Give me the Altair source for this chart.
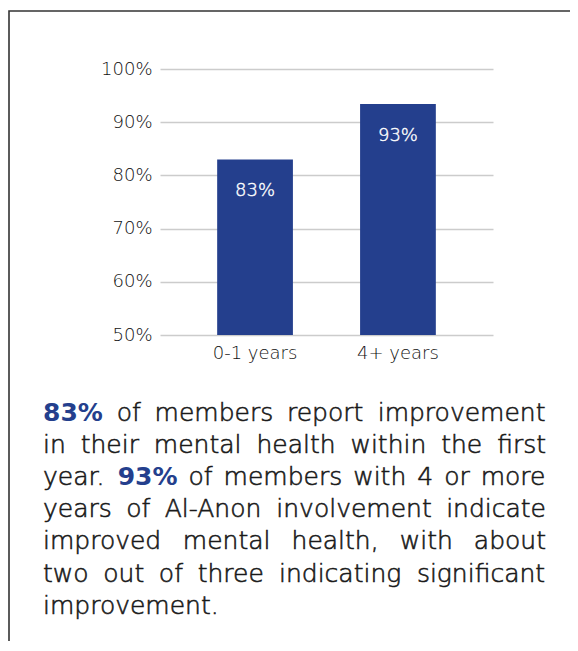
import altair as alt
import pandas as pd

# ---- data ----
categories = ["0-1 years", "4+ years"]
values = [83, 93.4]
bar_labels = ["83%", "93%"]
y_ticks = [50, 60, 70, 80, 90, 100]
y_domain = [50, 100]

paragraph_lines = [
    "83% of members report improvement",
    "in their mental health within the first",
    "year. 93% of members with 4 or more",
    "years of Al-Anon involvement indicate",
    "improved mental health, with about",
    "two out of three indicating significant",
    "improvement.",
]
bold_words = ["83%", "93%"]

# ---- styling ----
FONT = "DejaVu Sans"
BLUE = "#243f8d"
TEXT = "#1a1a1a"
AXIS_TEXT = "#111111"
GRID = "#cccccc"

PLOT_W, PLOT_H = 333, 266
PAD = {"left": 152, "top": 61, "right": 77, "bottom": 306}

# ---- paragraph layout (justified, computed from DejaVu Sans advance widths) ----
REG = {' ': 0.318, 'a': 0.613, 'b': 0.635, 'c': 0.550, 'd': 0.635, 'e': 0.615,
       'f': 0.352, 'g': 0.635, 'h': 0.634, 'i': 0.278, 'j': 0.278, 'k': 0.579,
       'l': 0.278, 'm': 0.974, 'n': 0.634, 'o': 0.612, 'p': 0.635, 'q': 0.635,
       'r': 0.411, 's': 0.521, 't': 0.392, 'u': 0.634, 'v': 0.592, 'w': 0.818,
       'x': 0.592, 'y': 0.592, 'z': 0.525, 'A': 0.684, 'N': 0.748, '.': 0.318,
       ',': 0.318, '-': 0.361, '%': 0.950}
for d in "0123456789":
    REG[d] = 0.636
BOLD = dict(REG)
for d in "0123456789":
    BOLD[d] = 0.696
BOLD['%'] = 1.002

FS = 25
LEFT, RIGHT = -117, 386
BASE0, LH = 351.5, 32.2


def word_width(w, bold):
    table = BOLD if bold else REG
    return sum(table.get(c, 0.6) for c in w) * FS


rows = []
for i, line in enumerate(paragraph_lines):
    words = line.split(" ")
    widths = [word_width(w, w in bold_words) for w in words]
    if i < len(paragraph_lines) - 1 and len(words) > 1:
        gap = (RIGHT - LEFT - sum(widths)) / (len(words) - 1)
    else:
        gap = REG[' '] * FS
    x = LEFT
    for w, wd in zip(words, widths):
        rows.append({"word": w, "px": x, "py": BASE0 + i * LH,
                     "bold": w in bold_words})
        x += wd + gap
words_df = pd.DataFrame(rows)

bars_df = pd.DataFrame({"cat": categories, "val": values, "lab": bar_labels})

# ---- chart ----
xenc = alt.X("cat:N", sort=categories, title=None,
             scale=alt.Scale(paddingInner=0.47, paddingOuter=0.4),
             axis=alt.Axis(labelAngle=0, ticks=False, domain=False, grid=False,
                           labelFont=FONT, labelFontSize=18, labelColor=AXIS_TEXT,
                           labelFontWeight=200, labelPadding=9))
yenc = alt.Y("val:Q", title=None,
             scale=alt.Scale(domain=y_domain, zero=False, nice=False),
             axis=alt.Axis(values=y_ticks, labelExpr="datum.value + '%'",
                           ticks=False, domain=False, grid=True,
                           gridColor=GRID, gridWidth=1.6,
                           labelFont=FONT, labelFontSize=18, labelColor=AXIS_TEXT,
                           labelFontWeight=200, labelPadding=8))

bars = alt.Chart(bars_df).mark_bar(color=BLUE).encode(
    x=xenc, y=yenc, y2=alt.datum(y_domain[0])
)
bar_text = alt.Chart(bars_df).mark_text(
    color="white", font=FONT, fontSize=18, fontWeight=200, baseline="middle",
    dy=32, stroke="white", strokeWidth=0.4
).encode(x=alt.X("cat:N", sort=categories), y=alt.Y("val:Q"), text="lab:N")

border = alt.Chart(pd.DataFrame({"k": [0]})).mark_rect(
    fillOpacity=0, stroke="#333333", strokeWidth=1.6
).encode(x=alt.value(-151), y=alt.value(-58), x2=alt.value(600), y2=alt.value(700))

reg_words = alt.Chart(words_df[~words_df["bold"]]).mark_text(
    font=FONT, fontSize=FS, fontWeight=200, color=TEXT, align="left",
    baseline="alphabetic", stroke=TEXT, strokeWidth=0.6
).encode(x=alt.X("px:Q", scale=None, axis=None),
         y=alt.Y("py:Q", scale=None, axis=None), text="word:N")
bold_w = alt.Chart(words_df[words_df["bold"]]).mark_text(
    font=FONT, fontSize=FS, color=BLUE, fontWeight="bold", align="left",
    baseline="alphabetic"
).encode(x=alt.X("px:Q", scale=None, axis=None),
         y=alt.Y("py:Q", scale=None, axis=None), text="word:N")

main = alt.layer(bars, bar_text)
text_layer = alt.layer(reg_words, bold_w)

chart = alt.layer(border, main, text_layer).resolve_scale(
    x="independent", y="independent"
).properties(
    width=PLOT_W, height=PLOT_H,
    autosize=alt.AutoSizeParams(type="none"),
    padding=PAD,
    background="white",
).configure_view(stroke=None)

chart.save("out.html", embed_options={"renderer": "svg", "actions": False})
